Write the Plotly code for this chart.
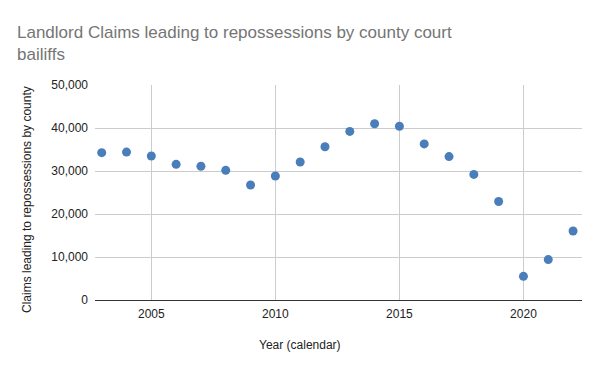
import plotly.graph_objects as go

years = list(range(2003, 2023))
claims = [34260, 34400, 33500, 31550, 31100, 30150, 26750, 28850, 32100, 35650,
          39200, 41000, 40400, 36300, 33350, 29200, 22900, 5500, 9400, 16050]
x_ticks = [2005, 2010, 2015, 2020]
y_ticks = [0, 10000, 20000, 30000, 40000, 50000]
y_tick_labels = ["0", "10,000", "20,000", "30,000", "40,000", "50,000"]

title = "Landlord Claims leading to repossessions by county court<br>bailiffs"
x_title = "Year (calendar)"
y_title = "Claims leading to repossessions by county"

W, H = 600, 371
l, r, t, b = 95, 18, 85, 71
pw, ph = W - l - r, H - t - b
FONT = "Arial, 'Liberation Sans', sans-serif"

fig = go.Figure()
fig.add_trace(go.Scatter(
    x=years, y=claims, mode="markers",
    marker=dict(color="#4a7ebb", size=9, line=dict(width=0)),
    showlegend=False,
))

fig.update_layout(
    width=W, height=H,
    margin=dict(l=l, r=r, t=t, b=b),
    paper_bgcolor="white", plot_bgcolor="white",
    font=dict(family=FONT, size=12, color="#222"),
    title=dict(text=title, x=17/W, xanchor="left", y=1 - 38/H, yanchor="top",
               font=dict(size=17, color="#757575", family=FONT)),
    xaxis=dict(range=[2002.73, 2022.36], tickvals=x_ticks, showgrid=True,
               gridcolor="#cccccc", gridwidth=1, zeroline=False, showline=False,
               ticks="", ticklabelstandoff=5, tickfont=dict(size=12, color="#222"),
               fixedrange=True),
    yaxis=dict(range=[0, 50000], tickvals=y_ticks, ticktext=y_tick_labels,
               showgrid=True, gridcolor="#cccccc", gridwidth=1, zeroline=True,
               zerolinecolor="#333333", zerolinewidth=1, showline=False,
               ticks="", ticklabelstandoff=6, tickfont=dict(size=12, color="#222"),
               fixedrange=True),
    annotations=[
        dict(text=x_title, x=(300 - l) / pw, y=(H - b - 345) / ph,
             xref="paper", yref="paper",
             xanchor="center", yanchor="middle", showarrow=False,
             font=dict(size=12, color="#222")),
        dict(text=y_title, x=(27 - l) / pw, y=(H - b - 200) / ph,
             xref="paper", yref="paper",
             xanchor="center", yanchor="middle", showarrow=False, textangle=-90,
             font=dict(size=12, color="#222")),
    ],
)

fig.write_html("out.html", config={"displayModeBar": False},
               post_script="document.body.style.margin='0';")
